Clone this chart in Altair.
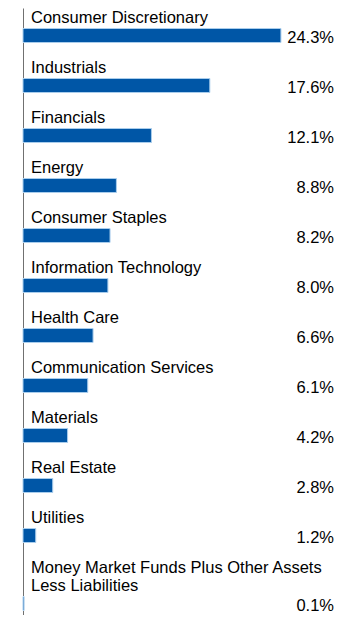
import altair as alt
import pandas as pd

categories = [
    "Consumer Discretionary",
    "Industrials",
    "Financials",
    "Energy",
    "Consumer Staples",
    "Information Technology",
    "Health Care",
    "Communication Services",
    "Materials",
    "Real Estate",
    "Utilities",
    "Money Market Funds Plus Other Assets\nLess Liabilities",
]
values = [24.3, 17.6, 12.1, 8.8, 8.2, 8.0, 6.6, 6.1, 4.2, 2.8, 1.2, 0.1]

# layout constants
PITCH = 50.0          # px per row
LH = 18               # label line height, px
W = 311
H = 607
TOP = 27.5            # px from top to first bar centre
XMAX = 29.3

pos = []
label_pos = []
p = 0.0
for i, c in enumerate(categories):
    extra_lines = c.count("\n")
    if i > 0:
        p += 1 + extra_lines * LH / PITCH
    pos.append(p)
    label_pos.append(p - extra_lines * LH / PITCH)

df = pd.DataFrame({
    "category": categories,
    "value": values,
    "pos": pos,
    "label_pos": label_pos,
    "label": [f"{v:.1f}%" for v in values],
})

d0 = -TOP / PITCH
d1 = d0 + H / PITCH
yscale = alt.Scale(domain=[d0, d1], reverse=True, nice=False, zero=False, padding=0)
xscale = alt.Scale(domain=[0, XMAX], nice=False, zero=True, padding=0)

base = alt.Chart(df)

bars = base.mark_bar(
    orient="horizontal", size=14, color="#0056a6",
    stroke="#a9cdec", strokeWidth=1,
).encode(
    x=alt.X("value:Q", scale=xscale, axis=None),
    y=alt.Y("pos:Q", scale=yscale,
            axis=alt.Axis(labels=False, ticks=False, grid=False, title=None,
                          domainColor="#707070", domainWidth=1)),
)

cat_text = base.mark_text(
    align="left", baseline="alphabetic", dy=-12.5, fontSize=16.5,
    font="Liberation Sans", color="#000000", lineBreak="\n", lineHeight=LH,
).encode(
    x=alt.value(8),
    y=alt.Y("label_pos:Q", scale=yscale),
    text="category:N",
)

val_text = base.mark_text(
    align="right", baseline="alphabetic", dy=7.5, fontSize=16.5,
    font="Liberation Sans", color="#000000",
).encode(
    x=alt.value(W),
    y=alt.Y("pos:Q", scale=yscale),
    text="label:N",
)

chart = alt.layer(bars, cat_text, val_text).properties(
    width=W, height=H,
    autosize=alt.AutoSizeParams(type="none"),
    padding={"left": 15, "top": 0, "right": 0, "bottom": 0},
).configure_view(stroke=None)

chart.save("out.html", embed_options={"renderer": "svg", "actions": False})
